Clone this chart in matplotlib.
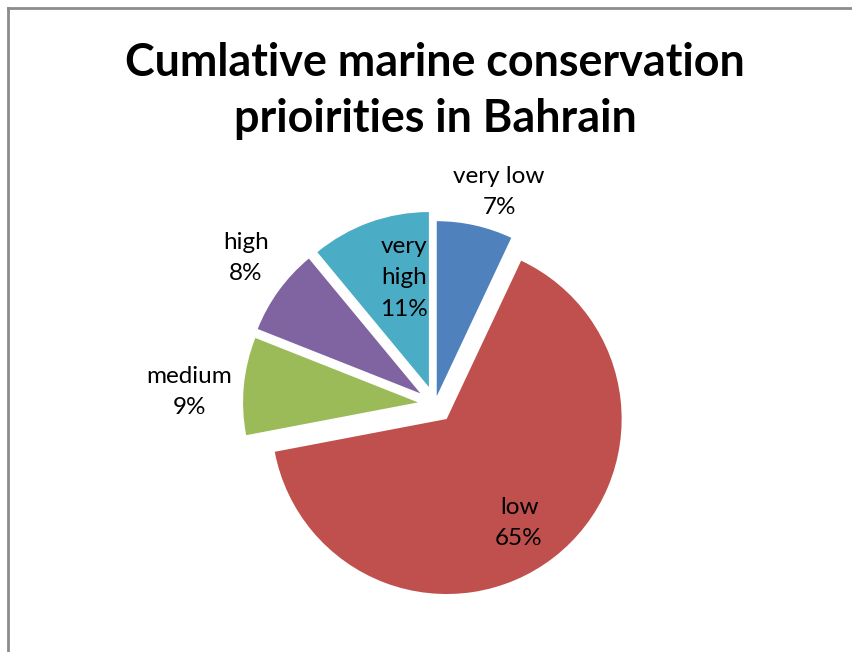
import matplotlib.pyplot as plt
from matplotlib.lines import Line2D

# chart data
categories = ['very low', 'low', 'medium', 'high', 'very high']
shares = [7, 65, 9, 8, 11]
colors = ['#4F81BD', '#C0504D', '#9BBB59', '#8064A2', '#4BACC6']
explode = [8, 19, 17, 18, 18]  # in pixels (axes are set up in pixel units)

plt.rcParams['font.family'] = ['Lato', 'DejaVu Sans']

W, H = 852, 652
fig = plt.figure(figsize=(W / 100, H / 100), dpi=100)
ax = fig.add_axes([0, 0, 1, 1])

cx, cy, r = 435, H - 404, 175
ax.pie(shares, colors=colors, explode=explode, startangle=90, counterclock=False,
       center=(cx, cy), radius=r, wedgeprops={'linewidth': 0})
ax.set_xlim(0, W)
ax.set_ylim(0, H)
ax.set_aspect('equal')
ax.axis('off')

# data labels (category + percent), placed like the Excel layout
label_pos = {
    'very low': (499, 192),
    'low': (519, 523),
    'medium': (189, 392),
    'high': (246, 258),
    'very high': (404, 278),
}
for name, val in zip(categories, shares):
    x, y = label_pos[name]
    txt = name.replace(' ', '\n') if name == 'very high' else name
    ax.text(x, H - y, f'{txt}\n{val}%', ha='center', va='center',
            fontsize=17.5, linespacing=1.6, color='black')

# title
fig.text(435 / W, 1 - 91 / H, 'Cumlative marine conservation\nprioirities in Bahrain',
         ha='center', va='center', fontsize=32.3, fontweight='bold', linespacing=1.42)

# chart area border (only left and top visible)
fig.add_artist(Line2D([8 / W, 8 / W], [0, 1 - 8 / H], color='#8c8c8c', lw=2))
fig.add_artist(Line2D([8 / W, 1], [1 - 8 / H, 1 - 8 / H], color='#8c8c8c', lw=2))

plt.savefig('out.png', dpi=100)
